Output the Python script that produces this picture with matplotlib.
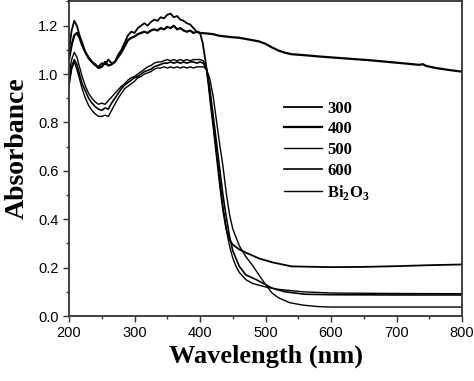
"""
UV-vis absorbance spectra of Bi2O3 and samples annealed at 300-600.
"""
import matplotlib
matplotlib.use('Agg')
import matplotlib.pyplot as plt
from matplotlib.ticker import MultipleLocator

# shared grid for the noisy UV part (nm)
wl_uv = [200, 204, 208, 212, 216, 220, 225, 230, 235, 240, 245, 250, 255, 260,
         265, 270, 275, 280, 285, 290, 295, 300, 305, 310, 315, 320, 325, 330,
         335, 340, 345, 350, 355, 360, 365, 370, 375, 380, 385, 390, 395, 400]

# 300
abs_300_uv = [1.10, 1.18, 1.22, 1.20, 1.16, 1.13, 1.09, 1.07, 1.05, 1.035, 1.03,
              1.045, 1.04, 1.06, 1.045, 1.05, 1.08, 1.10, 1.13, 1.16, 1.175,
              1.17, 1.19, 1.20, 1.21, 1.20, 1.215, 1.225, 1.22, 1.235, 1.23,
              1.245, 1.25, 1.235, 1.24, 1.225, 1.22, 1.21, 1.205, 1.19, 1.175, 1.17]
wl_300_vis = [404, 408, 412, 416, 420, 425, 430, 435, 440, 445, 450, 460, 470,
              490, 510, 540, 600, 650, 700, 750, 800]
abs_300_vis = [1.13, 1.06, 0.98, 0.88, 0.79, 0.67, 0.55, 0.44, 0.36, 0.315,
               0.295, 0.275, 0.262, 0.238, 0.222, 0.205, 0.202, 0.203, 0.206,
               0.21, 0.213]

# 400
abs_400_uv = [1.06, 1.12, 1.16, 1.17, 1.15, 1.12, 1.09, 1.065, 1.05, 1.04, 1.025,
              1.03, 1.05, 1.035, 1.04, 1.05, 1.07, 1.09, 1.115, 1.14, 1.15,
              1.155, 1.165, 1.17, 1.175, 1.17, 1.18, 1.185, 1.18, 1.19, 1.185,
              1.195, 1.19, 1.20, 1.185, 1.19, 1.18, 1.175, 1.18, 1.17, 1.175, 1.17]
wl_400_vis = [410, 420, 430, 440, 450, 460, 470, 480, 490, 500, 510, 520, 530,
              540, 560, 580, 600, 620, 640, 660, 680, 700, 720, 735, 740, 745,
              760, 780, 800]
abs_400_vis = [1.168, 1.165, 1.158, 1.155, 1.152, 1.15, 1.145, 1.14, 1.135,
               1.125, 1.11, 1.097, 1.088, 1.082, 1.078, 1.073, 1.069, 1.065,
               1.061, 1.057, 1.052, 1.047, 1.042, 1.038, 1.041, 1.034, 1.025,
               1.017, 1.01]

# 500
abs_500_uv = [1.00, 1.06, 1.09, 1.07, 1.03, 0.99, 0.95, 0.92, 0.90, 0.885, 0.875,
              0.88, 0.875, 0.89, 0.905, 0.92, 0.935, 0.95, 0.96, 0.975, 0.985,
              0.99, 1.00, 1.01, 1.02, 1.03, 1.035, 1.045, 1.05, 1.05, 1.055,
              1.06, 1.055, 1.06, 1.055, 1.06, 1.055, 1.06, 1.055, 1.06, 1.06, 1.06]
wl_500_vis = [405, 410, 415, 420, 425, 430, 435, 440, 445, 450, 455, 460, 470,
              480, 500, 520, 557, 600, 700, 800]
abs_500_vis = [1.055, 1.02, 0.92, 0.80, 0.68, 0.56, 0.45, 0.36, 0.29, 0.24,
               0.205, 0.18, 0.15, 0.135, 0.12, 0.11, 0.10, 0.095, 0.093, 0.092]

# 600
abs_600_uv = [0.97, 1.03, 1.06, 1.04, 1.00, 0.96, 0.93, 0.90, 0.88, 0.865, 0.855,
              0.85, 0.86, 0.855, 0.88, 0.90, 0.92, 0.94, 0.955, 0.965, 0.975,
              0.985, 0.99, 1.00, 1.01, 1.015, 1.02, 1.03, 1.035, 1.04, 1.045,
              1.045, 1.05, 1.045, 1.05, 1.045, 1.05, 1.045, 1.05, 1.05, 1.045, 1.05]
wl_600_vis = [405, 410, 415, 420, 425, 430, 435, 440, 445, 450, 460, 470, 486,
              510, 530, 560, 600, 700, 800]
abs_600_vis = [1.045, 1.02, 0.94, 0.83, 0.72, 0.61, 0.50, 0.41, 0.33, 0.27,
               0.205, 0.17, 0.15, 0.115, 0.10, 0.09, 0.088, 0.087, 0.087]

# Bi2O3
abs_bi_uv = [0.95, 1.02, 1.05, 1.02, 0.98, 0.94, 0.90, 0.87, 0.85, 0.835, 0.825,
             0.825, 0.83, 0.825, 0.85, 0.875, 0.90, 0.92, 0.94, 0.95, 0.96,
             0.97, 0.985, 0.99, 1.00, 1.005, 1.01, 1.02, 1.025, 1.025, 1.03,
             1.025, 1.03, 1.025, 1.03, 1.025, 1.03, 1.025, 1.03, 1.025, 1.03, 1.03]
wl_bi_vis = [405, 410, 415, 420, 425, 430, 435, 440, 445, 450, 460, 470, 480,
             490, 500, 510, 520, 537, 557, 580, 600, 800]
abs_bi_vis = [1.03, 1.02, 0.98, 0.91, 0.81, 0.71, 0.62, 0.51, 0.42, 0.36, 0.29,
              0.245, 0.21, 0.17, 0.13, 0.095, 0.075, 0.055, 0.045, 0.039, 0.037,
              0.037]

labels = ['300', '400', '500', '600', r'Bi$_\mathbf{2}$O$_\mathbf{3}$']
widths = [1.3, 1.6, 1.0, 1.2, 1.0]


def main() -> None:
    plt.rcParams['mathtext.fontset'] = 'custom'
    plt.rcParams['mathtext.rm'] = 'Liberation Serif:bold'
    plt.rcParams['mathtext.bf'] = 'Liberation Serif:bold'

    fig = plt.figure(figsize=(4.74, 3.81), dpi=100)
    ax = fig.add_axes([0.1456, 0.1706, 0.8291, 0.8255])

    series = [(abs_300_uv, wl_300_vis, abs_300_vis),
              (abs_400_uv, wl_400_vis, abs_400_vis),
              (abs_500_uv, wl_500_vis, abs_500_vis),
              (abs_600_uv, wl_600_vis, abs_600_vis),
              (abs_bi_uv, wl_bi_vis, abs_bi_vis)]
    for (uv, wl_vis, vis), label, lw in zip(series, labels, widths):
        ax.plot(wl_uv + wl_vis, uv + vis, color='black', linewidth=lw,
                label=label)

    ax.set_xlim(200, 800)
    ax.set_ylim(0, 1.3)
    ax.xaxis.set_major_locator(MultipleLocator(100))
    ax.xaxis.set_minor_locator(MultipleLocator(50))
    ax.yaxis.set_major_locator(MultipleLocator(0.2))
    ax.yaxis.set_minor_locator(MultipleLocator(0.1))
    ax.set_yticks([0.0, 0.2, 0.4, 0.6, 0.8, 1.0, 1.2])
    ax.tick_params(which='both', direction='out', top=False, right=False,
                   width=1.0, color='#333333')
    ax.tick_params(which='major', length=4)
    ax.tick_params(which='minor', length=2.5)
    for lab in ax.get_xticklabels() + ax.get_yticklabels():
        lab.set_family('Liberation Sans')
        lab.set_fontsize(10.5)
    for sp in ax.spines.values():
        sp.set_linewidth(1.3)
        sp.set_color('#333333')

    ax.set_xlabel('Wavelength (nm)', family='Liberation Serif',
                  weight='bold', fontsize=19, labelpad=3)
    ax.set_ylabel('Absorbance', family='Liberation Serif',
                  weight='bold', fontsize=20)
    ax.yaxis.set_label_coords(-0.1, 0.535)

    ax.legend(loc='upper left', bbox_to_anchor=(0.547, 0.685), frameon=False,
              prop={'family': 'Liberation Serif', 'weight': 'bold', 'size': 12},
              handlelength=2.3, handletextpad=0.3, labelspacing=0.28,
              borderpad=0, borderaxespad=0)

    fig.savefig('out.png', dpi=100)


if __name__ == '__main__':
    main()
